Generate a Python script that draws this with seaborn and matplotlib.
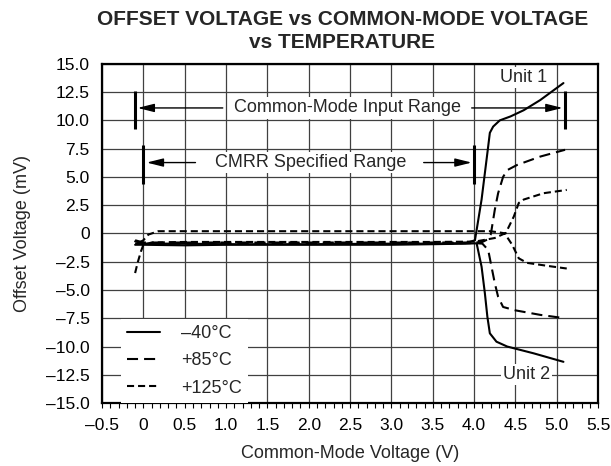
import pandas as pd
import seaborn as sns
import matplotlib.pyplot as plt
from matplotlib.lines import Line2D
from matplotlib.ticker import MultipleLocator, FuncFormatter

# curves (V common-mode, mV offset)
vcm_m40_u1 = [-0.1, 0.0, 0.5, 1.0, 2.0, 3.0, 3.5, 3.9, 4.01, 4.09, 4.17, 4.19, 4.23, 4.31, 4.44, 4.6, 4.8, 5.08]
vos_m40_u1 = [-0.7, -0.9, -0.9, -0.95, -0.95, -0.9, -0.9, -0.85, -0.6, 3.0, 7.7, 8.9, 9.45, 10.0, 10.35, 10.9, 11.8, 13.3]
vcm_m40_u2 = [-0.1, 0.0, 0.5, 1.0, 2.0, 3.0, 3.5, 3.9, 4.03, 4.09, 4.13, 4.16, 4.19, 4.27, 4.4, 4.72, 5.08]
vos_m40_u2 = [-1.0, -1.0, -1.05, -1.0, -1.0, -1.0, -0.95, -0.9, -0.87, -2.94, -5.3, -7.36, -8.83, -9.57, -10.0, -10.6, -11.35]

vcm_85_u1 = [-0.1, 0.0, 0.5, 1.0, 2.0, 3.0, 3.5, 4.0, 4.1, 4.17, 4.2, 4.21, 4.25, 4.29, 4.35, 4.4, 4.52, 4.8, 5.1]
vos_85_u1 = [-0.6, -0.8, -0.8, -0.8, -0.8, -0.8, -0.8, -0.8, -0.75, -0.5, -0.1, 0.3, 2.1, 3.56, 5.0, 5.6, 6.06, 6.8, 7.4]
vcm_85_u2 = [-0.1, 0.0, 0.5, 1.0, 2.0, 3.0, 3.5, 4.0, 4.1, 4.17, 4.21, 4.25, 4.29, 4.35, 4.5, 4.8, 5.1]
vos_85_u2 = [-0.9, -0.9, -0.9, -0.9, -0.9, -0.9, -0.9, -0.85, -0.9, -1.46, -2.94, -4.4, -5.6, -6.5, -6.8, -7.2, -7.5]

vcm_125_u1 = [-0.05, 0.0, 0.06, 0.18, 0.5, 1.0, 2.0, 3.0, 3.5, 4.0, 4.19, 4.3, 4.38, 4.44, 4.48, 4.54, 4.6, 4.84, 5.12]
vos_125_u1 = [-0.8, -0.6, -0.1, 0.2, 0.2, 0.2, 0.2, 0.2, 0.2, 0.2, 0.2, 0.1, 0.0, 0.9, 1.5, 2.7, 3.0, 3.56, 3.85]
vcm_125_u2 = [-0.1, -0.07, -0.03, 0.0, 0.1, 0.5, 1.0, 2.0, 3.0, 3.5, 4.01, 4.25, 4.37, 4.46, 4.54, 4.64, 4.92, 5.12]
vos_125_u2 = [-3.5, -2.6, -1.6, -1.0, -0.8, -0.75, -0.75, -0.75, -0.75, -0.75, -0.72, -0.4, 0.0, -1.0, -2.2, -2.6, -2.9, -3.1]

temps = ["−40°C", "+85°C", "+125°C"]
legend_labels = ["–40°C", "+85°C", "+125°C"]
cm_input_range = (-0.1, 5.1)
cmrr_range = (0.0, 4.0)

curves = [
    (temps[0], "Unit 1", vcm_m40_u1, vos_m40_u1),
    (temps[0], "Unit 2", vcm_m40_u2, vos_m40_u2),
    (temps[1], "Unit 1", vcm_85_u1, vos_85_u1),
    (temps[1], "Unit 2", vcm_85_u2, vos_85_u2),
    (temps[2], "Unit 1", vcm_125_u1, vos_125_u1),
    (temps[2], "Unit 2", vcm_125_u2, vos_125_u2),
]
df = pd.concat([pd.DataFrame({"vcm": x, "vos": y, "temp": t, "unit": u}) for t, u, x, y in curves],
               ignore_index=True)

sns.set_theme(style="white")
plt.rcParams['font.family'] = ['Liberation Sans', 'DejaVu Sans']

fig = plt.figure(figsize=(6.11, 4.66), dpi=100)
ax = fig.add_axes([0.167, 0.135, 0.812, 0.728])

dash_map = {temps[0]: "", temps[1]: (5.3, 2.9), temps[2]: (3.4, 1.9)}
sns.lineplot(data=df, x="vcm", y="vos", style="temp", units="unit", estimator=None, sort=False,
             color="black", lw=1.5, dashes=dash_map, legend=False, ax=ax, zorder=3)

ax.set_xlim(-0.5, 5.5)
ax.set_ylim(-15, 15)
ax.xaxis.set_major_locator(MultipleLocator(0.5))
ax.xaxis.set_minor_locator(MultipleLocator(0.1))
ax.yaxis.set_major_locator(MultipleLocator(2.5))


def fmt(v, pos):
    if abs(v) < 1e-9:
        return "0"
    return ("–" if v < 0 else "") + f"{abs(v):.1f}"


ax.xaxis.set_major_formatter(FuncFormatter(fmt))
ax.yaxis.set_major_formatter(FuncFormatter(fmt))
ax.tick_params(axis="x", which="both", direction="out", length=3.5, width=0.8, pad=7,
               labelsize=12.5, colors="black", bottom=True)
ax.tick_params(axis="y", length=0, pad=9, labelsize=12.5, colors="black")
ax.grid(True, which="major", color="0.25", lw=0.9)
ax.set_axisbelow(True)
for sp in ax.spines.values():
    sp.set_linewidth(1.6)
    sp.set_color("black")

ax.set_xlabel("Common-Mode Voltage (V)", fontsize=13, labelpad=9)
ax.set_ylabel("Offset Voltage (mV)", fontsize=13, labelpad=11)

fig.text(0.56, 0.934, "OFFSET VOLTAGE vs COMMON-MODE VOLTAGE\nvs TEMPERATURE",
         ha="center", va="center", fontsize=15, fontweight="bold", linespacing=1.25)

# range markers
bar_kw = dict(color="black", lw=2.2, zorder=4)
ax.vlines(cm_input_range, 9.2, 12.6, **bar_kw)
ax.vlines(cmrr_range, 4.4, 7.8, **bar_kw)
arrow_kw = dict(arrowstyle="-|>,head_length=1.0,head_width=0.25", color="black", lw=1.0,
                shrinkA=0, shrinkB=0, mutation_scale=10)
ax.annotate("", xy=(cm_input_range[0] + 0.03, 11.1), xytext=(0.96, 11.1), arrowprops=arrow_kw, zorder=4)
ax.annotate("", xy=(cm_input_range[1] - 0.03, 11.1), xytext=(3.97, 11.1), arrowprops=arrow_kw, zorder=4)
ax.annotate("", xy=(cmrr_range[0] + 0.04, 6.27), xytext=(0.63, 6.27), arrowprops=arrow_kw, zorder=4)
ax.annotate("", xy=(cmrr_range[1] - 0.03, 6.27), xytext=(3.39, 6.27), arrowprops=arrow_kw, zorder=4)

box = dict(facecolor="white", edgecolor="none", pad=1.5)
ax.text(2.47, 11.1, "Common-Mode Input Range", ha="center", va="center", fontsize=13, bbox=box, zorder=5)
ax.text(2.02, 6.27, "CMRR Specified Range", ha="center", va="center", fontsize=13, bbox=box, zorder=5)
ax.text(4.6, 13.8, "Unit 1", ha="center", va="center", fontsize=13, bbox=box, zorder=5)
ax.text(4.63, -12.5, "Unit 2", ha="center", va="center", fontsize=13, bbox=box, zorder=5)

handles = [Line2D([], [], color="black", lw=1.5, linestyle="-"),
           Line2D([], [], color="black", lw=1.5, dashes=(5.3, 2.9)),
           Line2D([], [], color="black", lw=1.5, dashes=(3.4, 1.9))]
leg = ax.legend(handles, legend_labels, loc="lower left", bbox_to_anchor=(0.038, 0.0), fontsize=13,
                frameon=True, fancybox=False, handlelength=1.8, handletextpad=1.2, labelspacing=0.58,
                borderpad=0.35, borderaxespad=0)
leg.get_frame().set_facecolor("white")
leg.get_frame().set_edgecolor("none")
leg.get_frame().set_alpha(1)
leg.set_zorder(6)

plt.savefig("out.png", dpi=100)
